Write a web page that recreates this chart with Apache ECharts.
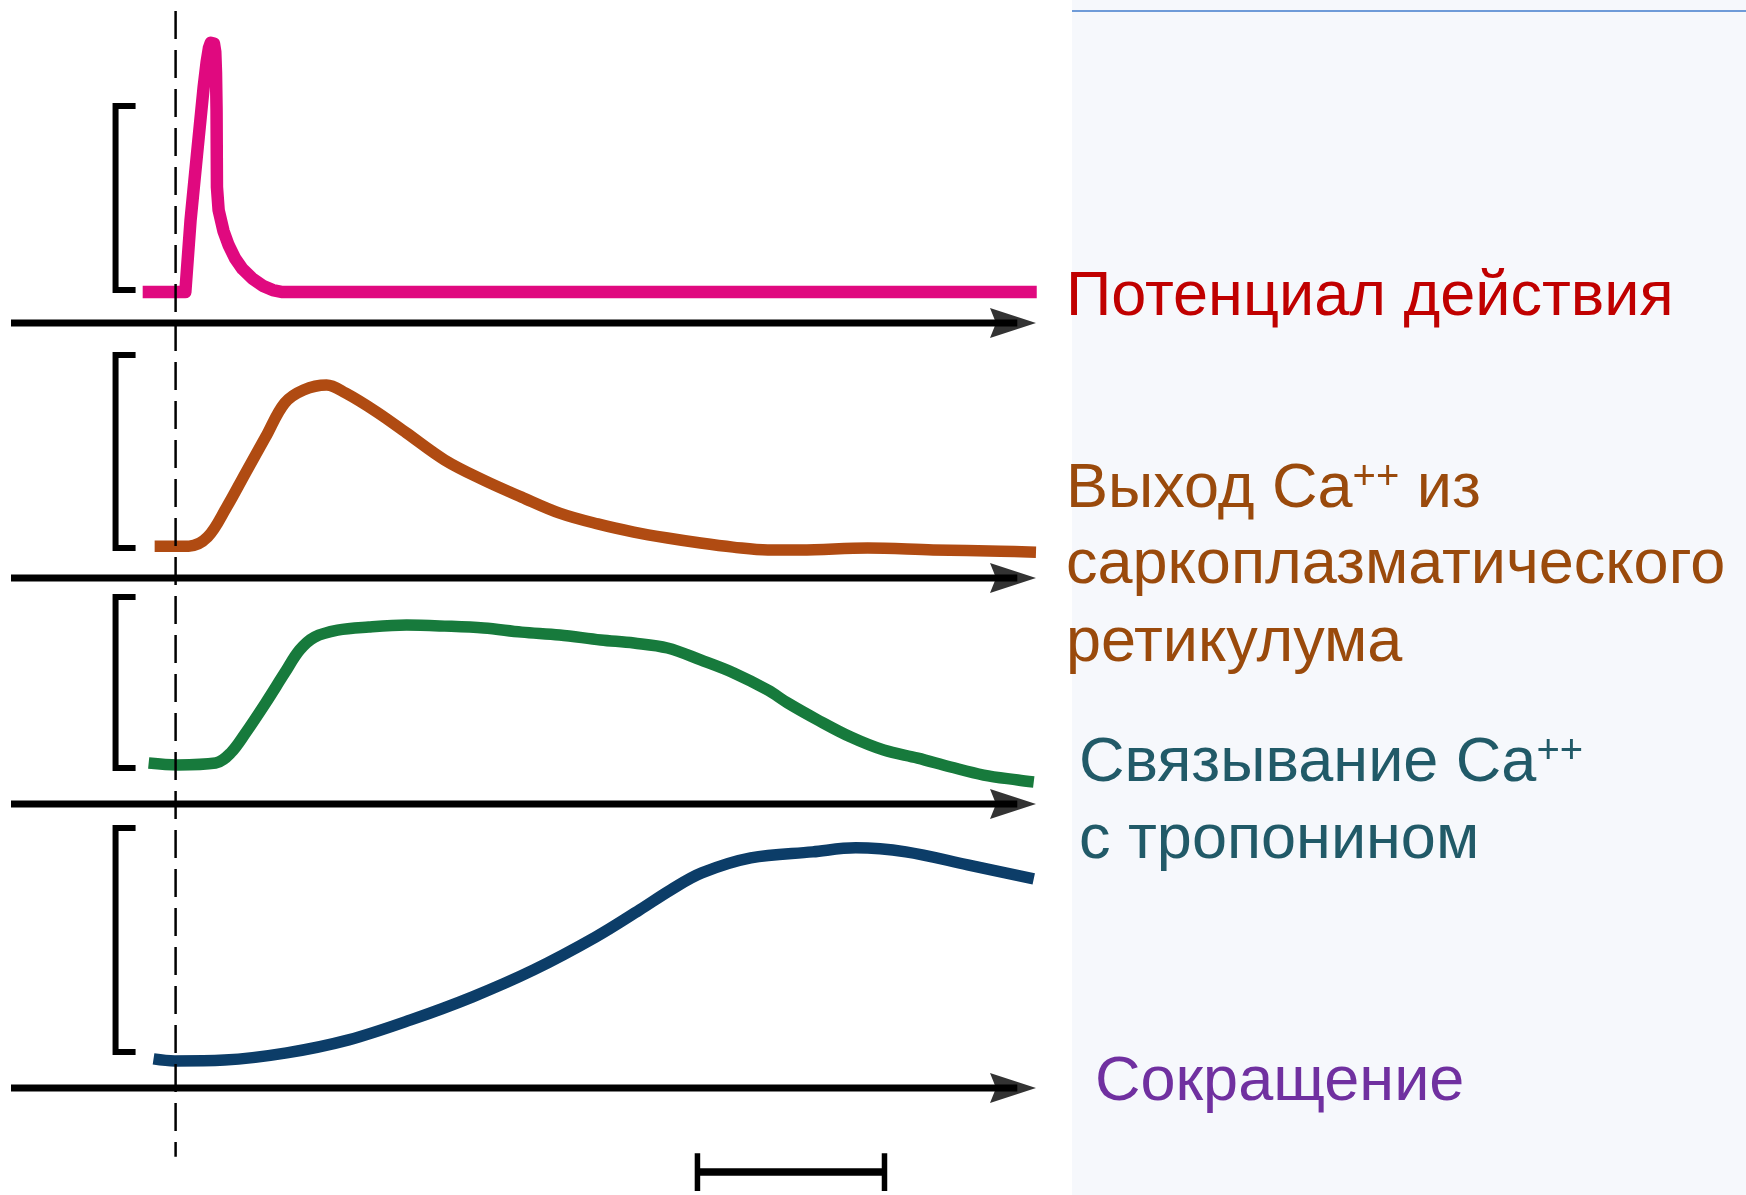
<!DOCTYPE html>
<html><head><meta charset="utf-8">
<script src="https://cdn.jsdelivr.net/npm/echarts@6/dist/echarts.min.js"></script>
<style>html,body{margin:0;padding:0;background:#fff}#c{width:1746px;height:1195px}</style>
</head><body><div id="c"></div>
<script>
// time axis (arbitrary units; scale bar = 100 units), stimulus at t = 0
const timeRange = [-88, 460];

// amplitudes normalised to the calibration bracket of each trace (0..100)
const actionPotential = [
  [-17.6,-1.1],[5.2,-1.1],[8.0,38.0],[11.5,74.5],[15.0,110.3],[16.6,124.0],[17.8,131.5],
  [18.8,134.4],[19.6,135.1],[20.5,134.0],[21.2,129.5],[21.6,118.0],[21.9,97.8],[22.0,76.1],
  [22.1,56.0],[23.0,43.5],[25.6,32.1],[28.3,24.5],[31.7,17.4],[35.8,11.4],[40.9,6.4],
  [46.5,2.4],[51.9,0],[57.2,-1.1],[460.4,-1.1]
];
const caRelease = [
  [-11.2,1.0],[7.0,1.0],[17.1,5.7],[27.3,21.2],[37.4,38.9],[48.1,57.5],[58.3,75.1],[68.4,81.9],
  [80.7,84.5],[90.9,80.3],[107.5,70.5],[123.5,59.6],[143.9,45.6],[164.7,35.2],[185.0,26.4],
  [205.3,18.1],[225.7,12.5],[245.0,8.3],[263.0,5.2],[280.7,2.6],[298.0,0.5],[316.6,-1.0],
  [334.0,-1.0],[370.0,0],[405.0,-1.0],[441.0,-1.6],[460.0,-2.1]
];
const caBinding = [
  [-14.4,2.9],[1.1,1.8],[21.4,2.9],[29.4,8.8],[37.4,20.5],[48.1,38.0],[58.3,55.6],[66.3,69.0],
  [74.3,76.6],[86.6,80.7],[103.2,82.5],[123.5,83.6],[143.9,83.0],[164.7,81.9],[185.0,79.5],
  [205.3,77.8],[227.3,74.9],[245.0,73.1],[263.0,70.2],[280.7,63.2],[298.4,55.6],[316.6,45.6],
  [327.3,38.0],[343.3,28.1],[361.0,18.1],[378.6,10.5],[396.8,5.8],[414.4,0.6],[432.0,-4.1],
  [450.3,-7.0],[458.8,-8.2]
];
const contraction = [
  [-11.8,-3.1],[-0.5,-4.0],[26.2,-3.6],[59.4,-0.4],[92.5,5.4],[125.7,14.3],[158.8,24.6],
  [191.4,36.6],[224.6,51.3],[248.1,63.4],[264.7,72.3],[281.3,79.9],[307.5,86.6],[340.6,89.3],
  [363.6,91.1],[390.4,89.3],[423.5,83.5],[458.8,77.2]
];
const calibrationBracket = [[-21.4,100],[-32.1,100],[-32.1,0],[-21.4,0]];
const stimulusMarker = [[0,100],[0,2.9]];
const scaleBar = [[279,1.6],[379,1.6]];
const scaleBarEnds = [279, 379];

const traceNames = ['Потенциал действия','Выход Ca++ из саркоплазматического ретикулума','Связывание Ca++ с тропонином','Сокращение'];
const traceColors = ['#e0097f','#b04b12','#177a3c','#0c3d68'];
const traceWidths = [12.5, 11.5, 11.5, 11.5];
const traceSmooth = [false, 0.35, 0.35, 0.35];
const traceData = [actionPotential, caRelease, caBinding, contraction];
const yRanges = [[-17.9,151.7],[-15.5,111.4],[-21.05,105.3],[-16.1,106.2]];
const gridBoxes = [[11,312],[333,245],[588,216],[814,274]];

const FONT = 'Liberation Sans, Arial, sans-serif';
const chart = echarts.init(document.getElementById('c'), null, {renderer:'canvas'});

const grids = gridBoxes.map(g => ({left:11, right:710, top:g[0], height:g[1], containLabel:false}));
grids.push({left:11, right:710, top:11, height:1180});

const xAxes = grids.map((g,i) => ({
  type:'value', gridIndex:i, min:timeRange[0], max:timeRange[1],
  axisLine:{show:false}, axisTick:{show:false}, axisLabel:{show:false}, splitLine:{show:false}
}));
const yAxes = grids.map((g,i) => ({
  type:'value', gridIndex:i, min: i<4 ? yRanges[i][0] : 0, max: i<4 ? yRanges[i][1] : 100,
  axisLine:{show:false}, axisTick:{show:false}, axisLabel:{show:false}, splitLine:{show:false}
}));

const arrowHead = 'path://M0,0 L46,15 L0,30 L6,15 Z';
const series = [];
traceData.forEach((d,i) => {
  const y0 = yRanges[i][0];
  // time axis with arrow
  series.push({
    type:'line', xAxisIndex:i, yAxisIndex:i, data:[[timeRange[0], y0],[timeRange[1]-10, y0]],
    showSymbol:false, symbol:'none', clip:false, silent:true,
    lineStyle:{color:'#000', width:7, cap:'butt'}, z:2
  });
  series.push({
    type:'scatter', xAxisIndex:i, yAxisIndex:i, data:[[timeRange[1], y0]], clip:false, silent:true,
    symbol:arrowHead, symbolSize:[46,30], symbolOffset:[-23,0], symbolKeepAspect:false,
    itemStyle:{color:'#000'}, z:2
  });
  series.push({
    type:'line', name:traceNames[i], xAxisIndex:i, yAxisIndex:i, data:d, showSymbol:false, symbol:'none',
    smooth: traceSmooth[i], clip:true,
    lineStyle:{color:traceColors[i], width:traceWidths[i], join:'round', cap:'butt'}, z:3
  });
  series.push({
    type:'line', xAxisIndex:i, yAxisIndex:i, data:calibrationBracket, showSymbol:false, symbol:'none', clip:false,
    lineStyle:{color:'#000', width:6, join:'miter', cap:'butt'}, z:2
  });
});
series.push({
  type:'line', xAxisIndex:4, yAxisIndex:4, data:stimulusMarker, showSymbol:false, symbol:'none',
  lineStyle:{color:'#000', width:2.5, type:[28,11]}, z:5
});
series.push({
  type:'line', xAxisIndex:4, yAxisIndex:4, data:scaleBar, showSymbol:false, symbol:'none',
  lineStyle:{color:'#000', width:7.5}, z:5
});
scaleBarEnds.forEach(x => series.push({
  type:'line', xAxisIndex:4, yAxisIndex:4, data:[[x,0],[x,3.2]], showSymbol:false, symbol:'none',
  lineStyle:{color:'#000', width:5.5}, z:5
}));

const base = {fontFamily:FONT, fontWeight:'normal', fontSize:63, lineHeight:63};
const sup = {fontFamily:FONT, fontSize:40, lineHeight:63, verticalAlign:'top'};
function label(text, left, top, color) {
  return {text, left, top, padding:0, textStyle:Object.assign({}, base, {color, rich:{
    n:Object.assign({}, base, {color}), s:Object.assign({}, sup, {color})}})};
}
const titles = [
  label('Потенциал действия', 1066, 266, '#c00000'),
  label('{n|Выход Ca}{s|++}{n| из}', 1066, 458, '#9a4a0c'),
  label('саркоплазматического', 1066, 534, '#9a4a0c'),
  label('ретикулума', 1066, 612, '#9a4a0c'),
  label('{n|Связывание Ca}{s|++}', 1079, 732, '#215a68'),
  label('с тропонином', 1079, 809, '#215a68'),
  label('Сокращение', 1095, 1051, '#7030a0')
];

chart.setOption({
  animation:false,
  backgroundColor:'#ffffff',
  title:titles,
  graphic:[
    {type:'rect', shape:{x:1072, y:0, width:674, height:1195}, style:{fill:'#f6f8fc'}, z:0, silent:true},
    {type:'line', shape:{x1:1072, y1:11, x2:1746, y2:11}, style:{stroke:'#6f9bd8', lineWidth:2}, z:1, silent:true}
  ],
  grid:grids, xAxis:xAxes, yAxis:yAxes, series
});
</script></body></html>
